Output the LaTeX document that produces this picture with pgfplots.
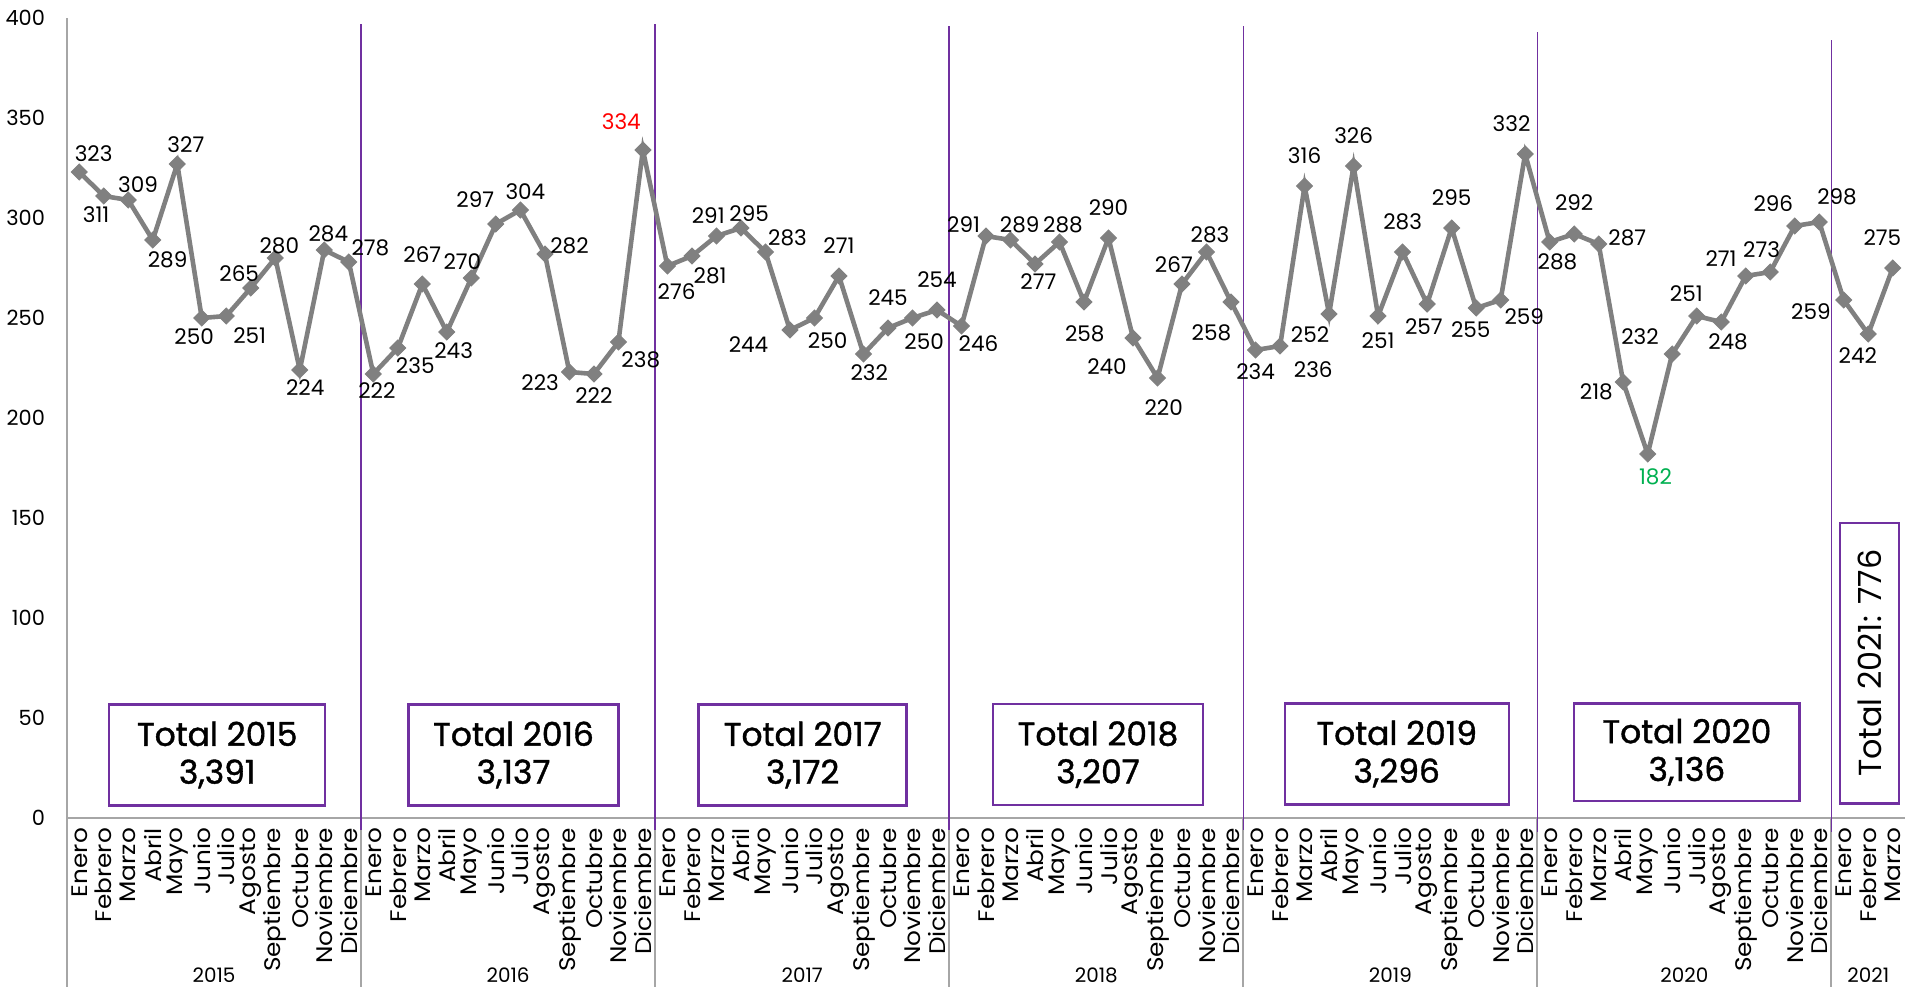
\documentclass[border=0pt]{standalone}
\usepackage{fontspec}
\setmainfont{Poppins}
\newfontfamily\monthfont[FakeStretch=1.1]{Poppins}
\newfontfamily\totfont[FakeBold=1.2]{Poppins}
\usepackage{pgfplots}
\pgfplotsset{compat=1.18}
\usepackage{pgfplotstable}

\definecolor{linegray}{RGB}{128,128,128}
\definecolor{axgray}{RGB}{166,166,166}
\definecolor{purp}{RGB}{112,48,160}
\definecolor{labred}{RGB}{255,0,0}
\definecolor{labgreen}{RGB}{0,176,80}

\pgfplotstableread{
x y dx dy c
0 323 7.2 9.2 0
1 311 -3.8 -9.3 0
2 309 4.9 7.7 0
3 289 7.4 -9.7 0
4 327 4.3 9.5 0
5 250 -3.8 -9.5 0
6 251 11.7 -9.7 0
7 265 -5.8 7.3 0
8 280 2 6 0
9 224 2.7 -8.8 0
10 284 2 8 0
11 278 10.8 7.2 0
12 222 1.8 -8.3 0
13 235 8.7 -8.8 0
14 267 0 14.8 0
15 243 3.4 -9.5 0
16 270 -4.5 8.2 0
17 297 -10.3 12 0
18 304 2.5 9.3 0
19 282 12.3 4 0
20 223 -14.6 -5.3 0
21 222 0 -10.8 0
22 238 11.2 -8.8 0
23 334 -10.8 14.2 1
24 276 4.6 -12.7 0
25 281 9.1 -9.7 0
26 291 -4.1 10 0
27 295 4.1 7.3 0
28 283 11 7.2 0
29 244 -20.7 -7.2 0
30 250 6.6 -11.3 0
31 271 0 15 0
32 232 2.9 -9.2 0
33 245 0 15 0
34 250 5.8 -11.7 0
35 254 0 15 0
36 246 8.5 -8.8 0
37 291 -11.2 5.8 0
38 289 4.6 7.7 0
39 277 1.7 -8.8 0
40 288 1.7 8.5 0
41 258 0.4 -15.7 0
42 290 0 15.2 0
43 240 -13 -14.2 0
44 220 3.1 -14.7 0
45 267 -4.1 9.5 0
46 283 1.7 8.5 0
47 258 -9.8 -15.3 0
48 234 0 -11 0
49 236 16.6 -12 0
50 316 0 15.3 0
51 252 -9.5 -10.2 0
52 326 0 15.3 0
53 251 0 -12.5 0
54 283 0 15 0
55 257 -1.6 -11.2 0
56 295 0 15 0
57 255 -2.7 -11 0
58 259 11.8 -8.5 0
59 332 -6.8 15 0
60 288 3.9 -10 0
61 292 0 15.5 0
62 287 14.3 3.3 0
63 218 -13.4 -4.8 0
64 182 3.9 -11.3 2
65 232 -16.1 8.5 0
66 251 -5.2 11 0
67 248 3.4 -10 0
68 271 -12.3 8.8 0
69 273 -4.3 11.3 0
70 296 -10.7 11.3 0
71 298 8.9 12.7 0
72 259 -16.4 -5.8 0
73 242 -5.2 -10.8 0
74 275 -5.2 15.3 0
}\data

\begin{document}
\begin{tikzpicture}
\begin{axis}[
  scale only axis,
  width=919bp, height=400bp,
  xmin=-0.5, xmax=74.5, ymin=0, ymax=400,
  clip=false,
  axis line style={draw=none},
  tick style={draw=none},
  ytick={0,50,...,400},
  xtick={0,...,74},
  xticklabels={Enero,Febrero,Marzo,Abril,Mayo,Junio,Julio,Agosto,Septiembre,Octubre,Noviembre,Diciembre,
    Enero,Febrero,Marzo,Abril,Mayo,Junio,Julio,Agosto,Septiembre,Octubre,Noviembre,Diciembre,
    Enero,Febrero,Marzo,Abril,Mayo,Junio,Julio,Agosto,Septiembre,Octubre,Noviembre,Diciembre,
    Enero,Febrero,Marzo,Abril,Mayo,Junio,Julio,Agosto,Septiembre,Octubre,Noviembre,Diciembre,
    Enero,Febrero,Marzo,Abril,Mayo,Junio,Julio,Agosto,Septiembre,Octubre,Noviembre,Diciembre,
    Enero,Febrero,Marzo,Abril,Mayo,Junio,Julio,Agosto,Septiembre,Octubre,Noviembre,Diciembre,
    Enero,Febrero,Marzo},
  xticklabel style={yshift=-1.5bp, rotate=90, anchor=east, font=\monthfont\fontsize{11.3}{12}\selectfont},
  yticklabel style={font=\fontsize{10.5}{12}\selectfont, xshift=-7.5bp},
  /pgf/number format/assume math mode=true,
  /pgf/number format/1000 sep={},
]
% separators
\draw[axgray, line width=1bp] (axis cs:-0.5,400) -- (axis cs:-0.5,0);
\draw[axgray, line width=1bp] (axis cs:-0.5,0) -- (axis cs:74.5,0);
\pgfplotsinvokeforeach{-0.5,11.5,23.5,35.5,47.5,59.5,71.5}{
  \draw[axgray, line width=1bp] (axis cs:#1,0) -- ([yshift=-84.5bp]axis cs:#1,0);
}
\draw[purp, line width=0.8bp] (axis cs:11.5,397) -- (axis cs:11.5,-6);
\draw[purp, line width=0.8bp] (axis cs:23.5,397) -- (axis cs:23.5,-6);
\draw[purp, line width=0.8bp] (axis cs:35.5,396) -- (axis cs:35.5,-6);
\draw[purp, line width=0.8bp] (axis cs:47.5,396) -- (axis cs:47.5,-6);
\draw[purp, line width=0.8bp] (axis cs:59.5,393) -- (axis cs:59.5,-7);
\draw[purp, line width=0.8bp] (axis cs:71.5,389) -- (axis cs:71.5,-7);

\addplot[linegray, line width=2.3bp, mark=square*, mark size=2.8bp,
  mark options={rotate=45, solid, fill=linegray, draw=linegray, line width=0.5bp},
  point meta=y,
  visualization depends on={\thisrow{dx} \as \ldx},
  visualization depends on={\thisrow{dy} \as \ldy},
  visualization depends on={\thisrow{c} \as \lc},
  nodes near coords={\ifdim\lc pt>1.5pt\color{labgreen}\else\ifdim\lc pt>0.5pt\color{labred}\else\color{black}\fi\fi\pgfmathprintnumber{\pgfplotspointmeta}},
  every node near coord/.append style={anchor=center, xshift=\ldx bp, yshift=\ldy bp,
     font=\fontsize{10.8}{12}\selectfont},
] table[x=x, y=y] {\data};

% year labels
\node[font=\fontsize{10}{12}\selectfont, inner sep=0pt] at (axis cs:5.5,0) [yshift=-78.5bp] {2015};
\node[font=\fontsize{10}{12}\selectfont, inner sep=0pt] at (axis cs:17.5,0) [yshift=-78.5bp] {2016};
\node[font=\fontsize{10}{12}\selectfont, inner sep=0pt] at (axis cs:29.5,0) [yshift=-78.5bp] {2017};
\node[font=\fontsize{10}{12}\selectfont, inner sep=0pt] at (axis cs:41.5,0) [yshift=-78.5bp] {2018};
\node[font=\fontsize{10}{12}\selectfont, inner sep=0pt] at (axis cs:53.5,0) [yshift=-78.5bp] {2019};
\node[font=\fontsize{10}{12}\selectfont, inner sep=0pt] at (axis cs:65.5,0) [yshift=-78.5bp] {2020};
\node[font=\fontsize{10}{12}\selectfont, inner sep=0pt] at (axis cs:73,0) [yshift=-78.5bp] {2021};

% total boxes
\tikzset{totbox/.style={draw=purp, line width=1.2bp, fill=white, align=center, inner sep=0pt,
   font=\totfont\fontsize{16.5}{19}\selectfont}}
\node[totbox, minimum width=108bp, minimum height=50.4bp] at (axis cs:5.63,31.5) {Total 2015\\3,391};
\node[totbox, minimum width=105bp, minimum height=50.4bp] at (axis cs:17.72,31.5) {Total 2016\\3,137};
\node[totbox, minimum width=104bp, minimum height=50.4bp] at (axis cs:29.52,31.5) {Total 2017\\3,172};
\node[totbox, minimum width=105bp, minimum height=50.4bp] at (axis cs:41.57,31.7) {Total 2018\\3,207};
\node[totbox, minimum width=112bp, minimum height=50.4bp] at (axis cs:53.76,32) {Total 2019\\3,296};
\node[totbox, minimum width=112.6bp, minimum height=48.7bp] at (axis cs:65.6,32.85) {Total 2020\\3,136};
\node[totbox, minimum width=29.6bp, minimum height=140.3bp] at (axis cs:73.05,77.35) {};
\node[rotate=90, font=\fontsize{16}{19}\selectfont] at (axis cs:73.05,77.35) {Total 2021: 776};

\coordinate (bl) at (axis cs:-0.5,0);
\end{axis}
\pgfresetboundingbox
\path[use as bounding box] (bl) ++(-33.5bp,-84.5bp) rectangle ++(956.5bp,493.5bp);
\end{tikzpicture}
\end{document}
